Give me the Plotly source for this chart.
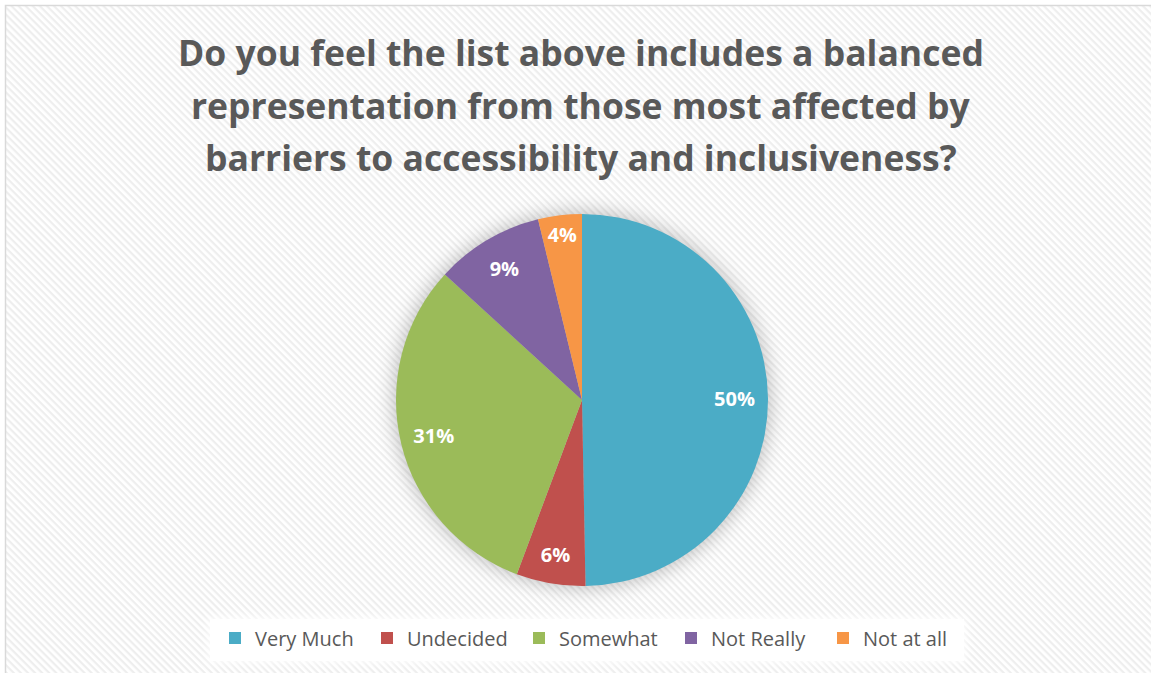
import base64
import plotly.graph_objects as go

# ---- data ----
categories = ["Very Much", "Undecided", "Somewhat", "Not Really", "Not at all"]
values = [49.7, 6.0, 31.1, 9.4, 3.8]
colors = ["#4BACC6", "#C0504D", "#9BBB59", "#8064A2", "#F79646"]
title_lines = [
    "Do you feel the list above includes a balanced",
    "representation from those most affected by",
    "barriers to accessibility and inclusiveness?",
]

W, H = 1151, 673
# pie placement (paper fractions)
dom_x = [(582 - 186) / W, (582 + 186) / W]
dom_y = [1 - 586 / H, 1 - 214 / H]
cx = (dom_x[0] + dom_x[1]) / 2 * W
cy = (1 - (dom_y[0] + dom_y[1]) / 2) * H
r = (dom_y[1] - dom_y[0]) * H / 2

# background: hatch pattern, border, pie shadow, legend box
svg = f'''<svg xmlns="http://www.w3.org/2000/svg" width="{W}" height="{H}" viewBox="0 0 {W} {H}" preserveAspectRatio="none">
<defs>
<pattern id="h" width="5" height="5" patternUnits="userSpaceOnUse" patternTransform="rotate(45)">
<rect width="5" height="5" fill="#ffffff"/>
<rect width="5" height="2.2" fill="#eeeeee"/>
</pattern>
<filter id="b" x="-30%" y="-30%" width="160%" height="160%"><feGaussianBlur stdDeviation="9"/></filter>
<filter id="b2" x="-30%" y="-30%" width="160%" height="160%"><feGaussianBlur stdDeviation="4"/></filter>
</defs>
<rect x="0" y="0" width="{W}" height="{H}" fill="#ffffff"/>
<rect x="5.5" y="5.5" width="{W+10}" height="{H+10}" fill="url(#h)" stroke="#d9d9d9" stroke-width="1.5"/>
<circle cx="{cx}" cy="{cy}" r="{r+3}" fill="#000" fill-opacity="0.22" filter="url(#b)"/>
<rect x="208" y="617" width="758" height="46" fill="#ffffff" fill-opacity="0.85" filter="url(#b2)"/>
<rect x="210" y="619" width="754" height="42" fill="#ffffff" fill-opacity="0.9"/>
</svg>'''
src = "data:image/svg+xml;base64," + base64.b64encode(svg.encode()).decode()

fig = go.Figure()
# solid slices
fig.add_trace(go.Pie(
    labels=categories,
    values=values,
    sort=False,
    direction="clockwise",
    rotation=0,
    domain=dict(x=dom_x, y=dom_y),
    marker=dict(colors=colors, line=dict(width=0)),
    textinfo="none",
    hoverinfo="label+percent",
))
# label ring (transparent) so percentages sit toward the outer edge
fig.add_trace(go.Pie(
    labels=categories,
    values=values,
    sort=False,
    direction="clockwise",
    rotation=0,
    hole=0.64,
    domain=dict(x=dom_x, y=dom_y),
    marker=dict(colors=["rgba(0,0,0,0)"] * len(values), line=dict(width=0)),
    texttemplate="%{percent:.0%}",
    textposition="inside",
    insidetextorientation="horizontal",
    textfont=dict(family="Open Sans", size=20, color="#ffffff", weight="bold"),
    hoverinfo="skip",
    showlegend=False,
))

for i, line in enumerate(title_lines):
    fig.add_annotation(
        text=f"<b>{line}</b>", x=581 / W, y=1 - (52 + 52.5 * i) / H,
        xref="paper", yref="paper", xanchor="center", yanchor="middle",
        showarrow=False,
        font=dict(family="Open Sans", size=35.5, color="#595959"),
    )

fig.update_layout(
    width=W, height=H,
    margin=dict(l=0, r=0, t=0, b=0),
    paper_bgcolor="#ffffff",
    plot_bgcolor="rgba(0,0,0,0)",
    images=[dict(source=src, xref="paper", yref="paper", x=0, y=1,
                 sizex=1, sizey=1, sizing="stretch", layer="below",
                 xanchor="left", yanchor="top")],
    showlegend=True,
    legend=dict(
        orientation="h", x=595 / W, xanchor="center", y=1 - 638 / H, yanchor="middle",
        font=dict(family="Open Sans", size=20, color="#595959"),
        bgcolor="rgba(0,0,0,0)",
        entrywidth=107, entrywidthmode="pixels",
        itemwidth=30,
    ),
)

fig.write_html("out.html")
